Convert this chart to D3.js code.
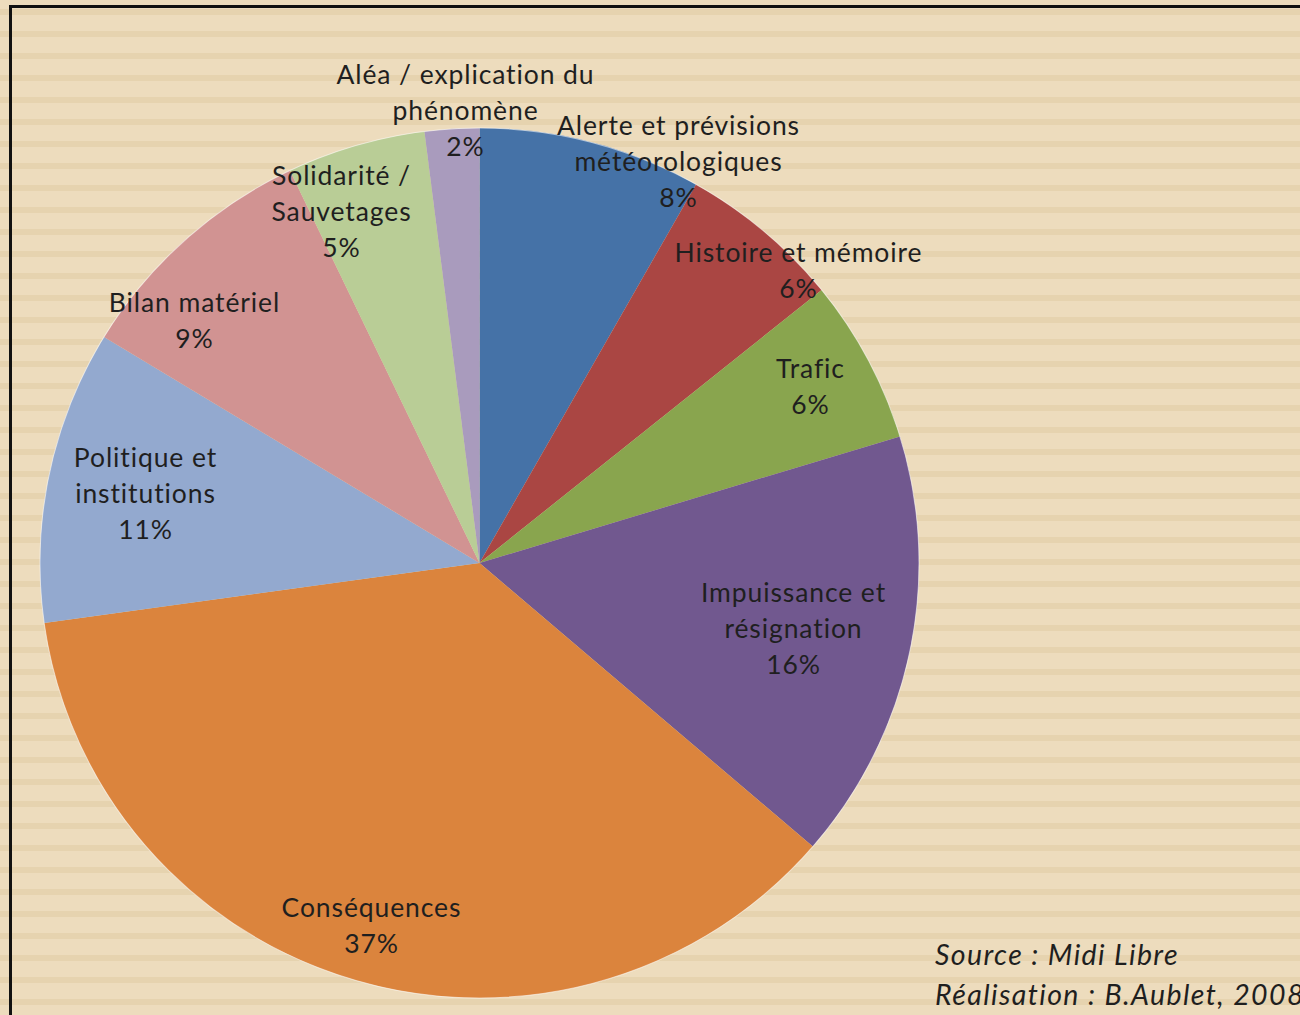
<!DOCTYPE html>
<html><head><meta charset="utf-8">
<script src="https://cdn.jsdelivr.net/npm/d3@7"></script>
<style>
html,body{margin:0;padding:0;background:#EDDCBD;overflow:hidden}
svg{display:block}
text{font-variant-ligatures:none;font-feature-settings:"liga" 0,"clig" 0}
</style></head>
<body>
<svg id="chart" width="1300" height="1015"></svg>
<script>
const categories = ["Alerte et prévisions\nmétéorologiques","Histoire et mémoire","Trafic","Impuissance et\nrésignation","Conséquences","Politique et\ninstitutions","Bilan matériel","Solidarité /\nSauvetages","Aléa / explication du\nphénomène"];
const shares = [8.2, 6.0, 6.1, 16.0, 36.5, 10.9, 9.2, 5.1, 2.0];
const colors = ["#4572A7","#AA4643","#89A54E","#71588F","#DB843D","#93A9CF","#D19392","#B9CD96","#A99BBD"];
// label anchor (centre of the first line baseline), relative to pie centre, in px
const labelPos = [[199,-428],[319,-301],[331,-185],[314,39],[-108,354],[-334,-96],[-285,-251],[-138,-378],[-14,-479]];
const sourceLines = ["Source : Midi Libre","Réalisation : B.Aublet, 2008"];

const W = 1300, H = 1015;
const svg = d3.select("#chart");

// striped background
const stripeY = d3.range(9, H, 22);
svg.append("rect").attr("x",0).attr("y",0).attr("width",W).attr("height",H).attr("fill","#EDDCBD");
svg.append("g").selectAll("rect").data(stripeY).join("rect")
  .attr("x",0).attr("y",d=>d).attr("width",W).attr("height",6).attr("fill","#E6D3AF");

// frame
svg.append("path").attr("d","M10.5,1100 V6.5 H1400").attr("fill","none").attr("stroke","#111").attr("stroke-width",3);

const cx = 479.5, cy = 563, r = 435;
const g = svg.append("g").attr("transform",`translate(${cx},${cy}) scale(${439.5/435},1)`);
const pie = d3.pie().sort(null).value(d=>d);
const arc = d3.arc().innerRadius(0).outerRadius(r);
g.selectAll("path.slice").data(pie(shares)).join("path")
  .attr("class","slice").attr("d",arc).attr("fill",(d,i)=>colors[i]);
g.append("circle").attr("r",r).attr("fill","none").attr("stroke","#ffffff").attr("stroke-opacity",0.55).attr("stroke-width",1);

// labels
const fontFam = "Lato, 'Open Sans', sans-serif";
const lab = svg.append("g").attr("font-family",fontFam).attr("font-size",26.5).attr("letter-spacing",0.9).attr("fill","#1f1f1f").attr("text-anchor","middle");
categories.forEach((c,i)=>{
  const lines = c.split("\n").concat([Math.round(shares[i])+"%"]);
  const t = lab.append("text").attr("x",cx+labelPos[i][0]).attr("y",cy+labelPos[i][1]);
  lines.forEach((l,j)=>{
    t.append("tspan").attr("x",cx+labelPos[i][0]).attr("dy", j===0?0:36).text(l);
  });
});

// source
const src = svg.append("g").attr("font-family",fontFam).attr("font-size",28.5).attr("letter-spacing",1.4).attr("font-style","italic").attr("fill","#1f1f1f");
sourceLines.forEach((s,i)=>{
  src.append("text").attr("x",935).attr("y",965+i*40).text(s);
});
</script>
</body></html>
